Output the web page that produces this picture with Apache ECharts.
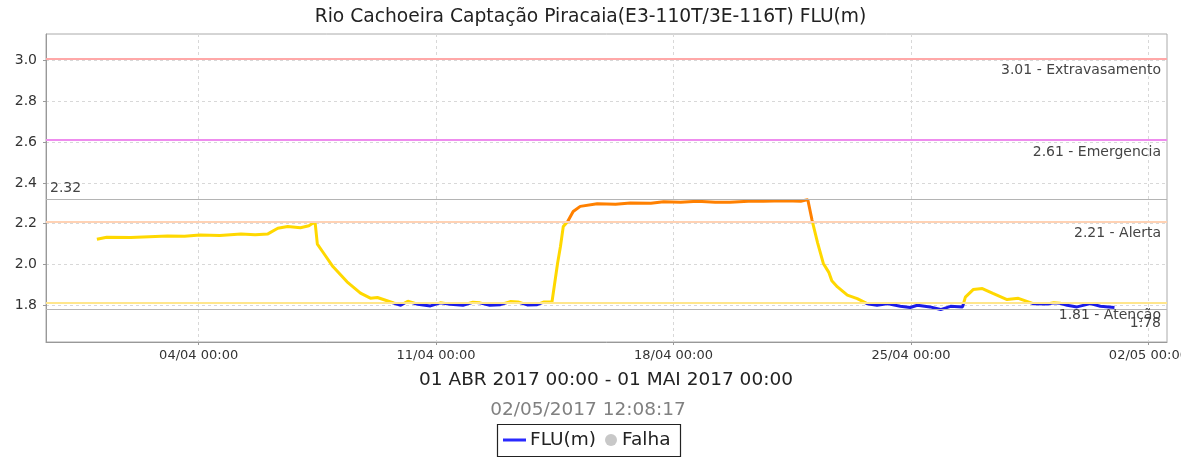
<!DOCTYPE html>
<html>
<head>
<meta charset="utf-8">
<script src="https://cdn.jsdelivr.net/npm/echarts@6/dist/echarts.min.js"></script>
<style>
html, body { margin: 0; padding: 0; background: #fff; }
#chart1 { width: 1181px; height: 458px; }
</style>
</head>
<body>
<div id="chart1"></div>
<script>
// leituras do nivel (m)
var times = [
    '2017-04-01 00:00', '2017-04-01 07:00', '2017-04-02 00:00', '2017-04-03 02:00', '2017-04-03 14:00',
    '2017-04-04 01:00', '2017-04-04 15:00', '2017-04-05 06:00', '2017-04-05 16:00', '2017-04-06 01:00',
    '2017-04-06 08:00', '2017-04-06 15:00', '2017-04-07 00:00', '2017-04-07 06:00', '2017-04-07 09:00',
    '2017-04-07 10:30', '2017-04-07 12:00', '2017-04-07 16:00', '2017-04-07 23:00', '2017-04-08 09:00',
    '2017-04-08 18:30', '2017-04-09 01:30', '2017-04-09 06:30', '2017-04-09 18:00', '2017-04-09 23:00',
    '2017-04-10 04:00', '2017-04-10 11:00', '2017-04-10 20:00', '2017-04-11 03:00', '2017-04-11 10:00',
    '2017-04-11 19:00', '2017-04-12 02:00', '2017-04-12 07:00', '2017-04-12 14:00', '2017-04-12 21:30',
    '2017-04-13 04:30', '2017-04-13 10:00', '2017-04-13 16:30', '2017-04-13 23:30', '2017-04-14 04:00',
    '2017-04-14 10:00', '2017-04-14 11:00', '2017-04-14 14:00', '2017-04-14 16:00', '2017-04-14 18:00',
    '2017-04-14 21:00', '2017-04-15 01:00', '2017-04-15 06:00', '2017-04-15 18:00', '2017-04-16 07:00',
    '2017-04-16 17:30', '2017-04-17 08:00', '2017-04-17 17:00', '2017-04-18 05:00', '2017-04-18 17:00',
    '2017-04-19 05:30', '2017-04-19 16:00', '2017-04-20 05:00', '2017-04-20 15:30', '2017-04-21 07:00',
    '2017-04-21 18:00', '2017-04-21 23:00', '2017-04-22 00:00', '2017-04-22 02:00', '2017-04-22 06:00',
    '2017-04-22 10:00', '2017-04-22 14:00', '2017-04-22 16:00', '2017-04-22 20:00', '2017-04-23 03:00',
    '2017-04-23 10:00', '2017-04-23 17:00', '2017-04-24 00:00', '2017-04-24 07:00', '2017-04-24 16:30',
    '2017-04-24 23:30', '2017-04-25 04:30', '2017-04-25 13:30', '2017-04-25 21:00', '2017-04-26 04:00',
    '2017-04-26 12:30', '2017-04-26 14:30', '2017-04-26 20:00', '2017-04-27 02:30', '2017-04-27 10:00',
    '2017-04-27 20:00', '2017-04-28 04:00', '2017-04-28 14:30', '2017-04-29 00:30', '2017-04-29 05:00',
    '2017-04-29 09:30', '2017-04-29 14:30', '2017-04-29 21:30', '2017-04-30 07:00', '2017-04-30 14:00',
    '2017-05-01 00:00'
];
var levels = [
    2.124, 2.134, 2.132, 2.140, 2.138,
    2.145, 2.142, 2.150, 2.146, 2.150,
    2.178, 2.186, 2.180, 2.190, 2.203,
    2.200, 2.100, 2.060, 1.990, 1.915,
    1.860, 1.835, 1.838, 1.811, 1.800,
    1.820, 1.805, 1.797, 1.812, 1.805,
    1.800, 1.815, 1.812, 1.800, 1.803,
    1.818, 1.816, 1.802, 1.803, 1.816,
    1.816, 1.820, 2.007, 2.088, 2.186,
    2.210, 2.260, 2.285, 2.298, 2.295,
    2.302, 2.300, 2.308, 2.305, 2.310,
    2.305, 2.305, 2.310, 2.310, 2.312,
    2.310, 2.318, 2.320, 2.218, 2.105,
    2.005, 1.960, 1.920, 1.890, 1.850,
    1.833, 1.808, 1.800, 1.808, 1.795,
    1.789, 1.800, 1.792, 1.779, 1.795,
    1.792, 1.840, 1.877, 1.882, 1.858,
    1.828, 1.834, 1.808, 1.806, 1.812,
    1.810, 1.800, 1.792, 1.808, 1.795,
    1.789
];

// cotas de referencia
var limitValues = [3.01, 2.61, 2.21, 1.81];
var limitNames = ['Extravasamento', 'Emergencia', 'Alerta', 'Atenção'];
var maxLevel = 2.32;
var minLevel = 1.78;

var yTicks = [1.8, 2.0, 2.2, 2.4, 2.6, 2.8, 3.0];
var xTicks = ['2017-04-04 00:00', '2017-04-11 00:00', '2017-04-18 00:00', '2017-04-25 00:00', '2017-05-02 00:00'];

var titleText = 'Rio Cachoeira Captação Piracaia(E3-110T/3E-116T) FLU(m)';
var periodText = '01 ABR 2017 00:00 - 01 MAI 2017 00:00';
var updateText = '02/05/2017 12:08:17';

function toTs(s) {
    return new Date(s.replace(' ', 'T') + ':00').getTime();
}
function pad(n) {
    return (n < 10 ? '0' : '') + n;
}

var font = 'DejaVu Sans';
var limitColors = ['#ffa8a8', '#ee8cee', '#ffd2b4', '#ffe68c'];

var myChart = echarts.init(document.getElementById('chart1'));

var data = times.map(function (t, i) {
    return [toTs(t), levels[i]];
});

var lineData = limitValues.map(function (v, i) {
    return {
        yAxis: v,
        lineStyle: { color: limitColors[i], width: 2, type: 'solid' },
        label: {
            position: 'insideEndBottom',
            formatter: v.toFixed(2) + ' - ' + limitNames[i]
        }
    };
});
lineData.push({
    yAxis: maxLevel,
    lineStyle: { color: '#b4b4b4', width: 1.2, type: 'solid' },
    label: { position: 'insideStartTop', formatter: maxLevel.toFixed(2), distance: [4, 4] }
});
lineData.push({
    yAxis: minLevel,
    lineStyle: { color: '#b4b4b4', width: 1.2, type: 'solid' },
    label: { position: 'insideEndBottom', formatter: minLevel.toFixed(2), distance: [6, 7] }
});

var option = {
    animation: false,
    textStyle: { fontFamily: font },
    title: {
        text: titleText,
        left: 'center',
        top: 3,
        textStyle: { fontFamily: font, fontSize: 18.7, fontWeight: 'normal', color: '#222' }
    },
    grid: {
        left: 46,
        right: 14,
        top: 34,
        bottom: 116,
        outerBoundsMode: 'none',
        containLabel: false,
        show: true,
        borderColor: '#aaa',
        borderWidth: 1
    },
    xAxis: {
        type: 'value',
        min: toTs('2017-03-30 12:00'),
        max: toTs('2017-05-02 13:10'),
        axisLine: { lineStyle: { color: '#999' } },
        axisTick: {
            show: true,
            length: 3,
            lineStyle: { color: '#999' },
            customValues: xTicks.map(toTs)
        },
        axisLabel: {
            customValues: xTicks.map(toTs),
            color: '#333',
            fontSize: 13,
            fontFamily: font,
            margin: 7,
            formatter: function (v) {
                var d = new Date(v);
                return pad(d.getDate()) + '/' + pad(d.getMonth() + 1) + ' ' + pad(d.getHours()) + ':' + pad(d.getMinutes());
            }
        },
        splitLine: { show: true, lineStyle: { color: '#d8d8d8', type: [3, 3] } }
    },
    yAxis: {
        type: 'value',
        min: 1.62,
        max: 3.13,
        axisLine: { show: true, lineStyle: { color: '#999' } },
        axisTick: { show: true, length: 3, lineStyle: { color: '#999' }, customValues: yTicks },
        axisLabel: {
            customValues: yTicks,
            color: '#333',
            fontSize: 14,
            fontFamily: font,
            margin: 9,
            formatter: function (v) { return v.toFixed(1); }
        },
        splitLine: { show: true, lineStyle: { color: '#d8d8d8', type: [3, 3] } }
    },
    visualMap: {
        type: 'piecewise',
        show: false,
        dimension: 1,
        seriesIndex: 0,
        pieces: [
            { lt: 1.81, color: '#1c1ce6' },
            { gte: 1.81, lte: 2.21, color: '#ffd800' },
            { gt: 2.21, color: '#ff8000' }
        ]
    },
    series: [{
        name: 'FLU(m)',
        type: 'line',
        showSymbol: false,
        data: data,
        lineStyle: { width: 3 },
        markLine: {
            silent: true,
            symbol: 'none',
            animation: false,
            label: { color: '#444', fontSize: 14, fontFamily: font, distance: [6, 5] },
            data: lineData
        },
        z: 3
    }],
    graphic: [
        {
            type: 'text',
            style: { x: 606, y: 380, text: periodText, align: 'center', verticalAlign: 'middle', font: '18.5px "DejaVu Sans"', fill: '#222' }
        },
        {
            type: 'text',
            style: { x: 588, y: 410, text: updateText, align: 'center', verticalAlign: 'middle', font: '18.5px "DejaVu Sans"', fill: '#808080' }
        },
        {
            type: 'group',
            children: [
                { type: 'rect', shape: { x: 497.5, y: 424.5, width: 183, height: 32 }, style: { fill: '#fff', stroke: '#222', lineWidth: 1.2 } },
                { type: 'line', shape: { x1: 503, y1: 440, x2: 526, y2: 440 }, style: { stroke: '#2a2aff', lineWidth: 3 } },
                { type: 'text', style: { x: 530, y: 440, text: 'FLU(m)', align: 'left', verticalAlign: 'middle', font: '18.5px "DejaVu Sans"', fill: '#222' } },
                { type: 'circle', shape: { cx: 611, cy: 440, r: 6 }, style: { fill: '#c8c8c8' } },
                { type: 'text', style: { x: 622, y: 440, text: 'Falha', align: 'left', verticalAlign: 'middle', font: '18.5px "DejaVu Sans"', fill: '#222' } }
            ]
        }
    ]
};

myChart.setOption(option);
</script>
</body>
</html>
